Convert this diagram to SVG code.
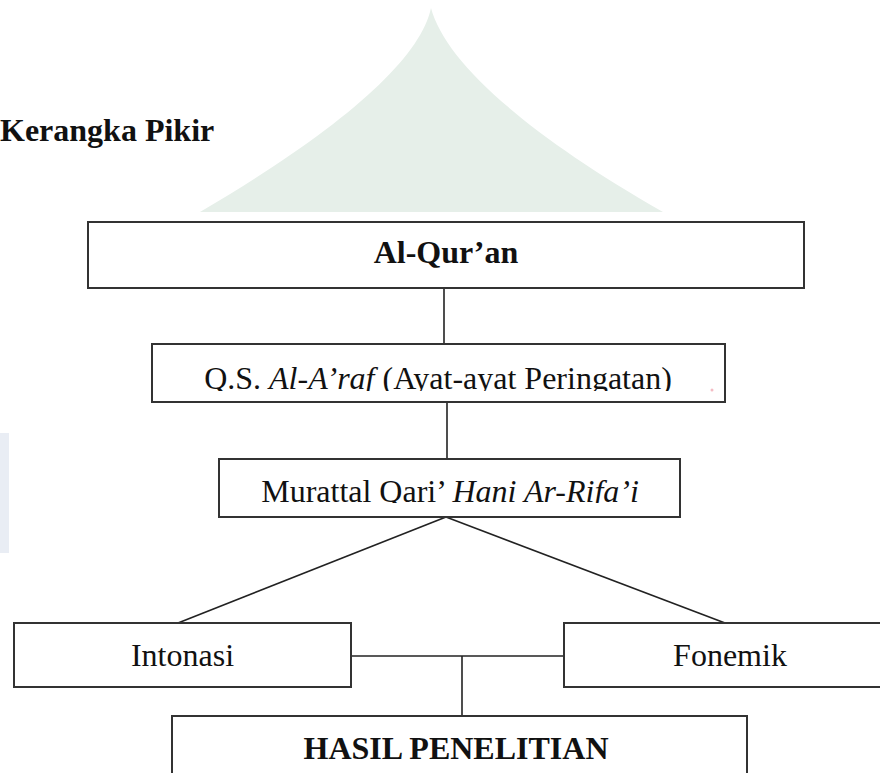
<svg xmlns="http://www.w3.org/2000/svg" width="880" height="773" viewBox="0 0 880 773">
<style>
.box{fill:#fff;stroke:#333;stroke-width:2}
.ln{stroke:#222;stroke-width:1.6;fill:none}
.t{font-size:32px;fill:#111}
.b{font-weight:bold}
.i{font-style:italic}
</style>
<defs>
<clipPath id="cq"><rect x="150" y="344" width="580" height="47"/></clipPath>
<clipPath id="cm"><rect x="219" y="459" width="462" height="44"/></clipPath>
</defs>
<rect width="880" height="773" fill="#fff"/>
<g id="watermark">
<path d="M431,8 C420,60 340,130 200,212 L663,212 C520,130 445,60 431,8 Z" fill="#e6efe9"/>
<rect x="0" y="433" width="9" height="120" fill="#e9edf4"/>
</g>
<g font-family="'Liberation Serif', 'Times New Roman', 'DejaVu Serif', serif">
<g id="title"><text class="t b" x="0" y="141">Kerangka Pikir</text></g>
<g id="connectors">
<line class="ln" x1="444" y1="288" x2="444" y2="344"/>
<line class="ln" x1="447" y1="402" x2="447" y2="459"/>
<line class="ln" x1="446" y1="517" x2="178" y2="623"/>
<line class="ln" x1="446" y1="517" x2="725" y2="623"/>
<line class="ln" x1="351" y1="656" x2="564" y2="656"/>
<line class="ln" x1="462" y1="656" x2="462" y2="716"/>
</g>
<g id="n-alquran">
<rect class="box" x="88" y="222" width="716" height="66"/>
<text class="t b" x="446" y="263" text-anchor="middle">Al-Qur’an</text>
</g>
<g id="n-qs">
<rect class="box" x="152" y="344" width="573" height="58"/>
<text class="t" x="438" y="389" text-anchor="middle" clip-path="url(#cq)">Q.S. <tspan class="i">Al-A’raf</tspan> (Ayat-ayat Peringatan)</text>
<circle cx="712" cy="390" r="1.5" fill="#f4bcc4"/>
</g>
<g id="n-murattal">
<rect class="box" x="219" y="459" width="461" height="58"/>
<text class="t" x="450" y="502" text-anchor="middle" clip-path="url(#cm)">Murattal Qari’ <tspan class="i">Hani Ar-Rifa’i</tspan></text>
</g>
<g id="n-intonasi">
<rect class="box" x="14" y="623" width="337" height="64"/>
<text class="t" x="182.5" y="666" text-anchor="middle">Intonasi</text>
</g>
<g id="n-fonemik">
<rect class="box" x="564" y="623" width="332" height="64"/>
<text class="t" x="730" y="666" text-anchor="middle">Fonemik</text>
</g>
<g id="n-hasil">
<rect class="box" x="172" y="716" width="575" height="70"/>
<text class="t b" x="456" y="759" text-anchor="middle">HASIL PENELITIAN</text>
</g>
</g>
</svg>
